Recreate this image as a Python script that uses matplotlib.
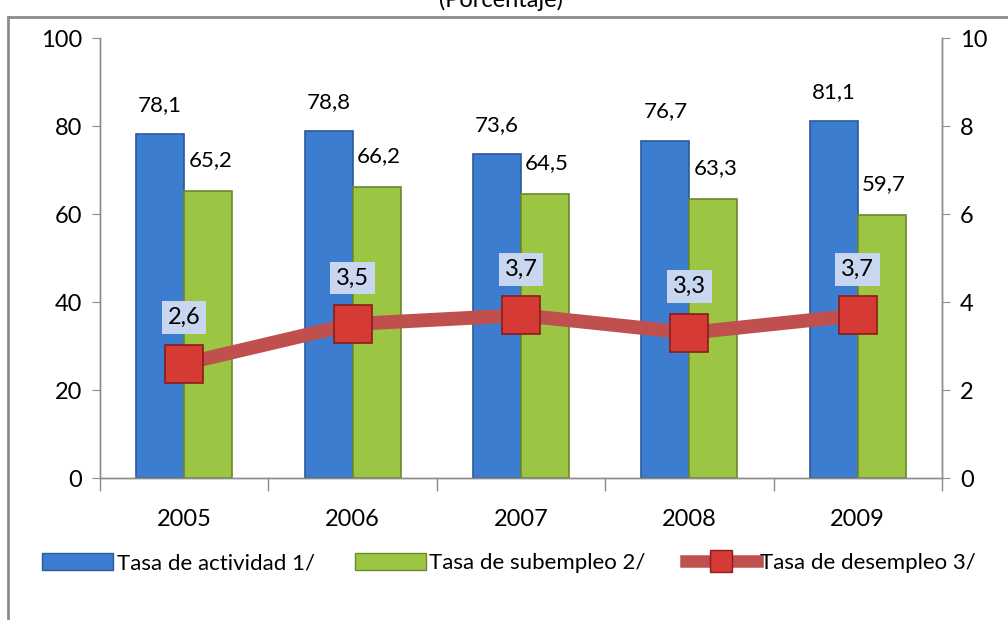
import matplotlib.pyplot as plt
from matplotlib.patches import Patch
from matplotlib.lines import Line2D

plt.rcParams['font.family'] = ['Lato', 'DejaVu Sans']

years = ['2005', '2006', '2007', '2008', '2009']
actividad = [78.1, 78.8, 73.6, 76.7, 81.1]
subempleo = [65.2, 66.2, 64.5, 63.3, 59.7]
desempleo = [2.6, 3.5, 3.7, 3.3, 3.7]

labels = ['Tasa de actividad 1/', 'Tasa de subempleo 2/', 'Tasa de desempleo 3/']

blue = '#3c7dd0'
blue_edge = '#2a5a9c'
green = '#9cc544'
green_edge = '#6b8a2c'
red_line = '#c0504d'
red_mark = '#d63a35'
red_edge = '#8a1c1a'
gray = '#8c8c8c'


def fmt(v):
    return f"{v:.1f}".replace('.', ',')


fig = plt.figure(figsize=(10.08, 6.2), dpi=100)
ax = fig.add_axes([0.0992, 0.229, 0.8353, 0.7097])
ax2 = ax.twinx()

x = list(range(len(years)))
w = 0.285
bars1 = ax.bar([i - w / 2 for i in x], actividad, width=w, color=blue,
               edgecolor=blue_edge, linewidth=1.2, zorder=2)
bars2 = ax.bar([i + w / 2 for i in x], subempleo, width=w, color=green,
               edgecolor=green_edge, linewidth=1.2, zorder=2)

for b, v in zip(bars1, actividad):
    ax.annotate(fmt(v), (b.get_x() + b.get_width() / 2, v), xytext=(0, 29),
                textcoords='offset pixels', ha='center', va='center', fontsize=16)
for b, v in zip(bars2, subempleo):
    ax.annotate(fmt(v), (b.get_x() + b.get_width() / 2, v), xytext=(2, 31),
                textcoords='offset pixels', ha='center', va='center', fontsize=16)

ax2.plot(x, desempleo, color=red_line, linewidth=10, marker='s', markersize=27,
         markerfacecolor=red_mark, markeredgecolor=red_edge, markeredgewidth=1.2,
         zorder=3)
for i, v in zip(x, desempleo):
    ax2.annotate(fmt(v), (i, v), xytext=(0, 46), textcoords='offset pixels',
                 ha='center', va='center', fontsize=17,
                 bbox=dict(boxstyle='square,pad=0.25', facecolor='#c8d7ef',
                           edgecolor='none'))

ax.set_xlim(-0.5, len(years) - 0.5)
ax.set_ylim(0, 100)
ax2.set_ylim(0, 10)
ax.set_yticks(range(0, 101, 20))
ax2.set_yticks(range(0, 11, 2))

ax.set_xticks(x)
ax.set_xticklabels(years, fontsize=17)
ax.set_xticks([i - 0.5 for i in range(len(years) + 1)], minor=True)
ax.tick_params(axis='x', which='major', length=0, pad=22)
ax.tick_params(axis='x', which='minor', length=9, color=gray, width=1)
ax.tick_params(axis='y', length=6, color=gray, labelsize=17, pad=7)
ax2.tick_params(axis='y', length=6, color=gray, labelsize=17, pad=7)

for a in (ax, ax2):
    a.spines['top'].set_visible(False)
    for s in ('left', 'right', 'bottom'):
        a.spines[s].set_color(gray)
        a.spines[s].set_linewidth(1)

handles = [
    Patch(facecolor=blue, edgecolor=blue_edge),
    Patch(facecolor=green, edgecolor=green_edge),
    Line2D([], [], color=red_line, linewidth=9, marker='s', markersize=16,
           markerfacecolor=red_mark, markeredgecolor=red_edge),
]
fig.legend(handles, labels, loc='center', bbox_to_anchor=(0.505, 0.092), ncol=3,
           frameon=False, fontsize=16, handlelength=3.2, handleheight=0.8,
           handletextpad=0.15, columnspacing=1.8)

fig.text(0.497, 1.0, '(Porcentaje)', ha='center', va='center', fontsize=17)

# outer chart border (partly cut off, like the reference)
fig.add_artist(Line2D([0.008, 1.0], [0.9726, 0.9726], color=gray, linewidth=2,
                      transform=fig.transFigure))
fig.add_artist(Line2D([0.008, 0.008], [0.0, 0.9726], color=gray, linewidth=2,
                      transform=fig.transFigure))

fig.savefig('out.png', dpi=100)
